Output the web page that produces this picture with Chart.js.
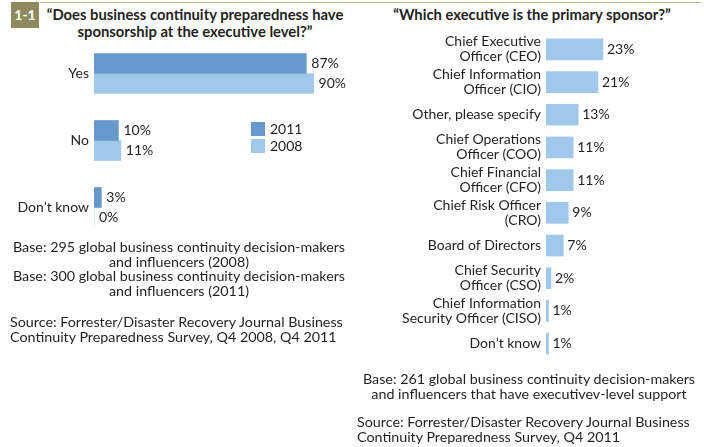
<!DOCTYPE html>
<html>
<head>
<meta charset="utf-8">
<script src="https://cdn.jsdelivr.net/npm/chart.js@4/dist/chart.umd.min.js"></script>
<style>
  body { margin: 0; width: 704px; height: 447px; position: relative; overflow: hidden;
         background: #fff; font-family: Lato, "Open Sans", sans-serif; color: #231f20; }
  .abs { position: absolute; }
  .rule { left: 40px; top: 2px; width: 661px; height: 1px; background: #b9b78f; }
  .badge { left: 11px; top: 2px; width: 28px; height: 26px; background: #8d8b5e; color: #fff;
           font-weight: bold; font-size: 14px; line-height: 26px; text-align: center; }
  .title { font-weight: bold; font-size: 14.8px; line-height: 17px; text-align: center; white-space: nowrap; }
  .note { font-size: 14.3px; line-height: 14.5px; white-space: nowrap; }
  .center { text-align: center; }
  canvas { position: absolute; }
</style>
</head>
<body>
<div class="abs rule"></div>
<div class="abs badge">1-1</div>
<div class="abs title" style="left:40px;top:6px;width:310px;">“Does business continuity preparedness have<br>sponsorship at the executive level?”</div>
<div class="abs title" style="left:372px;top:6px;width:320px;">“Which executive is the primary sponsor?”</div>

<canvas id="sponsorship" width="352" height="260" style="left:0;top:0;"></canvas>
<canvas id="sponsor" width="344" height="380" style="left:360px;top:0;"></canvas>

<div class="abs note center" style="left:0;top:240px;width:358px;">Base: 295 global business continuity decision-makers<br>and influencers (2008)<br>Base: 300 global business continuity decision-makers<br>and influencers (2011)</div>
<div class="abs note" style="left:10px;top:315px;">Source: Forrester/Disaster Recovery Journal Business<br>Continuity Preparedness Survey, Q4 2008, Q4 2011</div>

<div class="abs note center" style="left:360px;top:372px;width:338px;">Base: 261 global business continuity decision-makers<br>and influencers that have executivev-level support</div>
<div class="abs note" style="left:357px;top:415px;">Source: Forrester/Disaster Recovery Journal Business<br>Continuity Preparedness Survey, Q4 2011</div>

<script>
// --- data ---
const sponsorshipAnswers = ['Yes', 'No', 'Don’t know'];
const years = ['2011', '2008'];
const share2011 = [87, 10, 3];
const share2008 = [90, 11, 0];

const sponsorRoles = [
  ['Chief Executive', 'Officer (CEO)'],
  ['Chief Information', 'Officer (CIO)'],
  'Other, please specify',
  ['Chief Operations', 'Officer (COO)'],
  ['Chief Financial', 'Officer (CFO)'],
  ['Chief Risk Officer', '(CRO)'],
  'Board of Directors',
  ['Chief Security', 'Officer (CSO)'],
  ['Chief Information', 'Security Officer (CISO)'],
  'Don’t know'
];
const sponsorShare = [23, 21, 13, 11, 11, 9, 7, 2, 1, 1];

const darkBlue = '#6699cc';
const lightBlue = '#9fc8ea';
const inkColor = '#231f20';
const labelFont = { family: 'Lato', size: 14, lineHeight: '15px' };

// "87%" style labels just past the end of each bar
const valueLabels = {
  id: 'valueLabels',
  afterDatasetsDraw(chart, args, opts) {
    const { ctx } = chart;
    ctx.save();
    ctx.font = '14px Lato';
    ctx.fillStyle = inkColor;
    ctx.textBaseline = 'middle';
    chart.data.datasets.forEach((ds, i) => {
      chart.getDatasetMeta(i).data.forEach((bar, j) => {
        ctx.fillText(ds.data[j] + '%', bar.x + opts.gap, bar.y);
      });
    });
    ctx.restore();
  }
};

// small square legend sitting beside the "No" group
const squareLegend = {
  id: 'squareLegend',
  afterDraw(chart, args, opts) {
    if (!opts.show) return;
    const { ctx } = chart;
    ctx.save();
    ctx.font = '14px Lato';
    ctx.textBaseline = 'middle';
    chart.data.datasets.forEach((ds, i) => {
      const y = opts.y + i * 17;
      ctx.fillStyle = ds.backgroundColor;
      ctx.fillRect(opts.x, y, 14, 14);
      ctx.fillStyle = inkColor;
      ctx.fillText(ds.label, opts.x + 19, y + 7);
    });
    ctx.restore();
  }
};

function barOptions(axisWidth, xMax, padding, gap, legend) {
  return {
    indexAxis: 'y',
    responsive: false,
    animation: false,
    layout: { padding },
    plugins: {
      legend: { display: false },
      tooltip: { enabled: false },
      valueLabels: { gap },
      squareLegend: legend
    },
    scales: {
      x: { display: false, min: 0, max: xMax },
      y: {
        grid: { display: false, drawTicks: false },
        border: { display: false },
        ticks: { color: inkColor, font: labelFont, padding: 5, autoSkip: false },
        afterFit: (s) => { s.width = axisWidth; }
      }
    }
  };
}

new Chart(document.getElementById('sponsorship'), {
  type: 'bar',
  data: {
    labels: sponsorshipAnswers,
    datasets: [
      { label: years[0], data: share2011, backgroundColor: darkBlue, barThickness: 20 },
      { label: years[1], data: share2008, backgroundColor: lightBlue, barThickness: 20 }
    ]
  },
  options: barOptions(94, 100, { top: 40, bottom: 19, right: 14, left: 0 }, 5, { show: true, x: 251, y: 122 }),
  plugins: [valueLabels, squareLegend]
});

new Chart(document.getElementById('sponsor'), {
  type: 'bar',
  data: {
    labels: sponsorRoles,
    datasets: [
      { label: '2011', data: sponsorShare, backgroundColor: lightBlue, barThickness: 21 }
    ]
  },
  options: barOptions(186, 40, { top: 33, bottom: 13, right: 59, left: 0 }, 4, { show: false }),
  plugins: [valueLabels, squareLegend]
});
</script>
</body>
</html>
